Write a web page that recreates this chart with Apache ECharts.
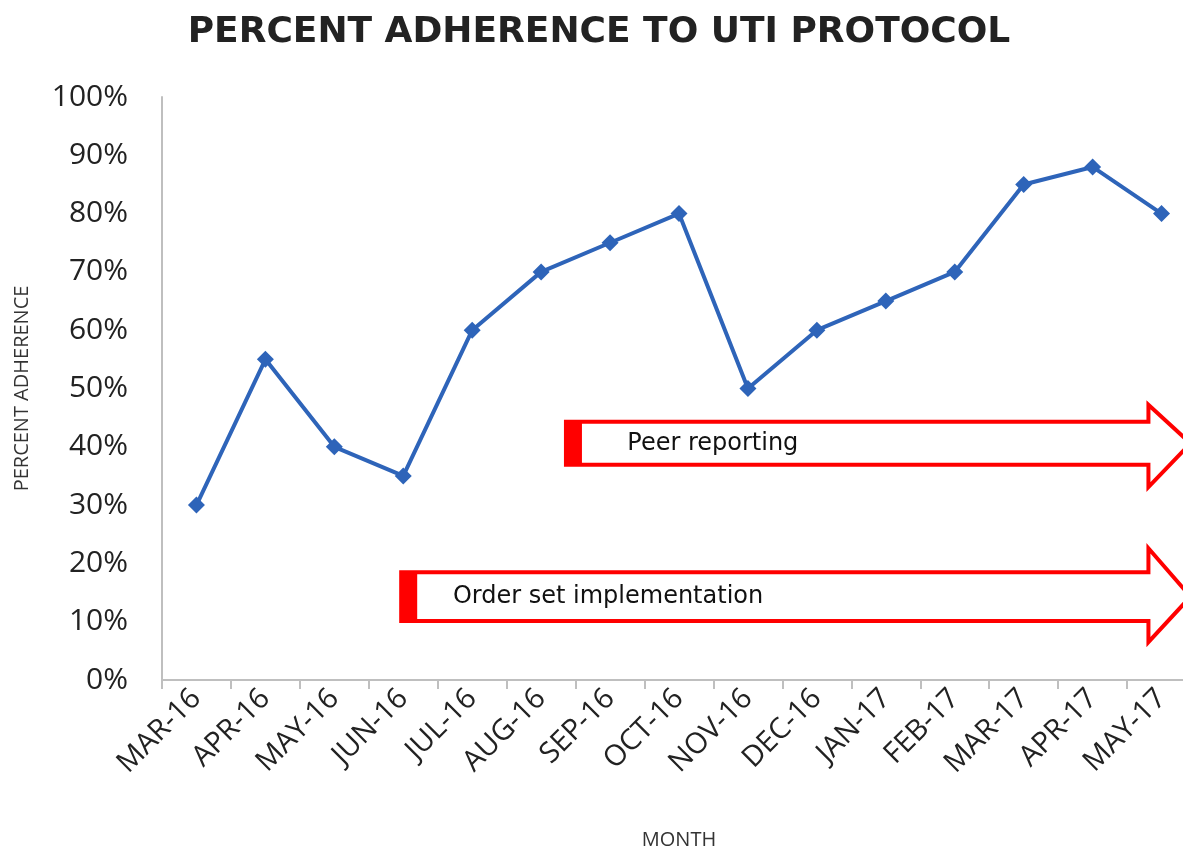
<!DOCTYPE html>
<html>
<head>
<meta charset="utf-8">
<script src="https://cdn.jsdelivr.net/npm/echarts@6/dist/echarts.min.js"></script>
<style>html,body{margin:0;padding:0;background:#fff;}#c{width:1183px;height:853px;}</style>
</head>
<body>
<div id="c"></div>
<script>
const months = ['MAR-16','APR-16','MAY-16','JUN-16','JUL-16','AUG-16','SEP-16','OCT-16','NOV-16','DEC-16','JAN-17','FEB-17','MAR-17','APR-17','MAY-17'];
const adherence = [30, 55, 40, 35, 60, 70, 75, 80, 50, 60, 65, 70, 85, 88, 80];
const yTicks = [0, 10, 20, 30, 40, 50, 60, 70, 80, 90, 100];
// intervention arrows: label, start (category index), head start, tip, body low/high, head low/high, text x
const arrowLabels = ['Peer reporting', 'Order set implementation'];
const arrowStart = [5.36, 2.97];
const arrowHeadStart = [13.81, 13.81];
const arrowTip = [14.42, 14.42];
const arrowBody = [[36.9, 44.3], [10.1, 18.5]];
const arrowHead = [[33.1, 47.2], [6.5, 22.6]];
const arrowTextX = [6.25, 3.72];

const arrowData = arrowLabels.map((l, i) => [arrowStart[i], arrowHeadStart[i], arrowTip[i], arrowBody[i][0], arrowBody[i][1], arrowHead[i][0], arrowHead[i][1], arrowTextX[i]]);

const chart = echarts.init(document.getElementById('c'));
chart.setOption({
  animation: false,
  title: {
    text: 'PERCENT ADHERENCE TO UTI PROTOCOL',
    left: 594, top: 10, textAlign: 'center',
    textStyle: { fontFamily: 'DejaVu Sans', fontWeight: 'bold', fontSize: 36, color: '#222' }
  },
  grid: { left: 162, top: 97, bottom: 173, right: -13, outerBoundsMode: 'none', containLabel: false },
  xAxis: [{
    type: 'category', data: months,
    name: 'MONTH', nameLocation: 'middle', nameGap: 150,
    nameTextStyle: { fontFamily: 'Open Sans', fontSize: 20, color: '#333' },
    axisLine: { onZero: false, lineStyle: { color: '#bfbfbf', width: 2 } },
    axisTick: { show: true, alignWithLabel: false, interval: 0, length: 9, lineStyle: { color: '#bfbfbf', width: 2 } },
    axisLabel: { rotate: 45, interval: 0, fontFamily: 'Open Sans', fontSize: 29, color: '#222', margin: 14 }
  }, {
    type: 'value', min: -0.5, max: 14.5, show: false
  }],
  yAxis: {
    type: 'value', min: 0, max: 100, interval: 10,
    name: 'PERCENT ADHERENCE', nameLocation: 'middle', nameGap: 130,
    nameTextStyle: { fontFamily: 'Open Sans', fontSize: 20, color: '#333' },
    axisLine: { show: true, onZero: false, lineStyle: { color: '#bfbfbf', width: 2 } },
    axisTick: { show: false },
    splitLine: { show: false },
    axisLabel: { fontFamily: 'Open Sans', fontSize: 30, color: '#222', margin: 34,
      formatter: v => yTicks.includes(v) ? v + '%' : '' }
  },
  series: [{
    type: 'custom', xAxisIndex: 1, data: arrowData, z: 1,
    renderItem: function (params, api) {
      const s = api.coord([api.value(0), api.value(3)]);
      const bl = api.coord([api.value(1), api.value(3)]);
      const bh = api.coord([api.value(1), api.value(4)]);
      const sh = api.coord([api.value(0), api.value(4)]);
      const hl = api.coord([api.value(1), api.value(5)]);
      const hh = api.coord([api.value(1), api.value(6)]);
      const tip = api.coord([api.value(2), (api.value(3) + api.value(4)) / 2]);
      const tx = api.coord([api.value(7), (api.value(3) + api.value(4)) / 2]);
      return {
        type: 'group',
        children: [{
          type: 'polygon',
          shape: { points: [sh, bh, hh, tip, hl, bl, s] },
          style: { fill: '#fff', stroke: '#ff0000', lineWidth: 4 }
        }, {
          type: 'rect',
          shape: { x: s[0], y: sh[1], width: 16, height: s[1] - sh[1] },
          style: { fill: '#ff0000' }
        }, {
          type: 'text',
          style: { text: arrowLabels[params.dataIndex], x: tx[0], y: tx[1], fill: '#111',
            font: '24px "DejaVu Sans"', verticalAlign: 'middle', align: 'left' }
        }]
      };
    }
  }, {
    type: 'line', data: adherence, z: 3,
    symbol: 'diamond', symbolSize: 17,
    lineStyle: { color: '#2e64b9', width: 4 },
    itemStyle: { color: '#2e64b9' }
  }]
});
</script>
</body>
</html>
